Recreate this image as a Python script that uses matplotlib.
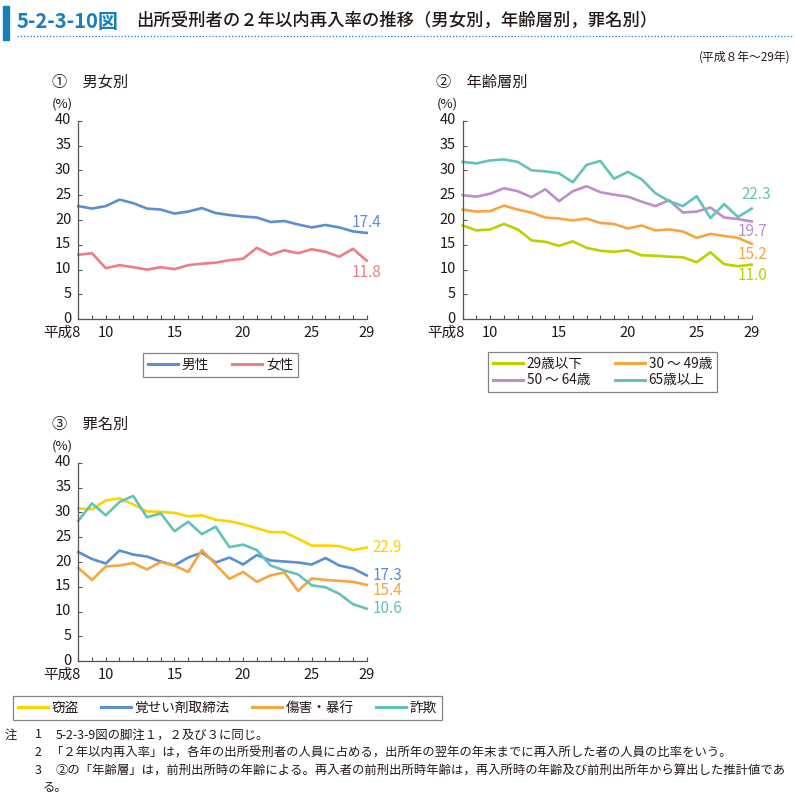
import matplotlib
matplotlib.use('Agg')
import matplotlib.pyplot as plt
import matplotlib.transforms as mt
from matplotlib.lines import Line2D
from matplotlib.patches import Rectangle

plt.rcParams['font.family'] = ['Noto Sans CJK JP', 'DejaVu Sans']

# ---------------- data ----------------
years = list(range(8, 30))
xtick_labels = ['平成8', '', '10', '', '', '', '', '15', '', '', '', '', '20',
                '', '', '', '', '25', '', '', '', '29']
yticks = [0, 5, 10, 15, 20, 25, 30, 35, 40]

# ① 男女別
male = [22.8, 22.3, 22.8, 24.1, 23.4, 22.3, 22.1, 21.3, 21.7, 22.4, 21.4,
        21.0, 20.7, 20.5, 19.6, 19.8, 19.1, 18.5, 19.0, 18.5, 17.7, 17.4]
female = [13.0, 13.3, 10.3, 10.9, 10.5, 10.0, 10.5, 10.1, 10.9, 11.2, 11.4,
          11.9, 12.2, 14.4, 13.0, 13.9, 13.3, 14.1, 13.6, 12.6, 14.2, 11.8]
sex_labels = ['男性', '女性']

# ② 年齢層別
age29 = [18.9, 17.9, 18.1, 19.2, 18.1, 15.9, 15.6, 14.8, 15.7, 14.4, 13.8,
         13.6, 13.9, 12.9, 12.8, 12.6, 12.5, 11.5, 13.5, 11.1, 10.7, 11.0]
age30 = [22.1, 21.7, 21.8, 22.9, 22.1, 21.5, 20.5, 20.3, 19.9, 20.3, 19.4,
         19.2, 18.3, 18.9, 17.9, 18.1, 17.7, 16.4, 17.2, 16.8, 16.4, 15.2]
age50 = [25.0, 24.7, 25.3, 26.4, 25.8, 24.6, 26.2, 23.8, 25.8, 26.8, 25.6,
         25.1, 24.7, 23.7, 22.8, 24.0, 21.5, 21.7, 22.5, 20.5, 20.2, 19.7]
age65 = [31.7, 31.4, 32.0, 32.2, 31.7, 30.0, 29.8, 29.4, 27.6, 31.1, 31.9,
         28.3, 29.7, 28.2, 25.4, 23.8, 22.8, 24.8, 20.4, 23.2, 20.6, 22.3]
age_labels = ['29歳以下', '30 ～ 49歳', '50 ～ 64歳', '65歳以上']

# ③ 罪名別
theft = [30.8, 30.6, 32.4, 32.8, 31.6, 30.2, 30.1, 29.9, 29.2, 29.4, 28.5,
         28.2, 27.6, 26.8, 26.0, 26.0, 24.7, 23.3, 23.3, 23.2, 22.4, 22.9]
stim = [22.0, 20.6, 19.7, 22.3, 21.5, 21.1, 20.1, 19.3, 20.9, 21.9, 19.9,
        20.9, 19.5, 21.4, 20.3, 20.1, 19.9, 19.5, 20.8, 19.3, 18.7, 17.3]
assault = [18.8, 16.4, 19.1, 19.3, 19.8, 18.5, 20.0, 19.3, 18.0, 22.4, 19.5,
           16.6, 18.0, 16.0, 17.3, 17.9, 14.2, 16.7, 16.4, 16.2, 16.0, 15.4]
fraud = [28.3, 31.8, 29.4, 32.1, 33.3, 29.0, 29.8, 26.2, 28.1, 25.6, 27.1,
         23.0, 23.5, 22.4, 19.3, 18.3, 17.5, 15.3, 14.9, 13.6, 11.5, 10.6]
crime_labels = ['窃盗', '覚せい剤取締法', '傷害・暴行', '詐欺']

# ---------------- styling ----------------
BLUE = '#5B8FD1'
PINK = '#EE7D86'
YGREEN = '#BDD000'
ORANGE = '#F7A53E'
PURPLE = '#BE8ECB'
TEAL = '#63C3BA'
YELLOW = '#FFD200'
HEAD = '#1A7FB8'
TXT = '#231815'
LW = 1.9

W, H = 796, 799
fig = plt.figure(figsize=(W / 100, H / 100), dpi=100)
fig.patch.set_facecolor('white')


def rect(x0, x1, yt, yb):
    return [x0 / W, 1 - yb / H, (x1 - x0) / W, (yb - yt) / H]


def style(ax):
    ax.set_xlim(8, 29)
    ax.set_ylim(0, 40)
    for s in ['top', 'right']:
        ax.spines[s].set_visible(False)
    for s in ['left', 'bottom']:
        ax.spines[s].set_color('#555555')
        ax.spines[s].set_linewidth(0.9)
    ax.set_xticks(years)
    ax.set_xticklabels(xtick_labels)
    ax.set_yticks(yticks)
    ax.tick_params(axis='both', direction='in', length=3, width=0.8,
                   color='#555555', labelsize=10.5, labelcolor=TXT)
    ax.tick_params(axis='x', pad=5)
    ax.tick_params(axis='y', pad=5)
    lab = ax.get_xticklabels()[0]
    lab.set_ha('right')
    lab.set_transform(lab.get_transform() + mt.ScaledTranslation(2 / 100, 0, fig.dpi_scale_trans))
    for t in ax.get_yticklabels():
        t.set_transform(t.get_transform() + mt.ScaledTranslation(0, 2 / 100, fig.dpi_scale_trans))


def end_label(ax, series, color, dx, dy, ha='center'):
    v = series[-1]
    ax.annotate(f'{v:.1f}', xy=(years[-1], v), xytext=(dx, dy),
                textcoords='offset points', ha=ha, va='center',
                color=color, fontsize=11)


# Panel 1
ax1 = fig.add_axes(rect(78.3, 366.7, 120.7, 319.3))
style(ax1)
ax1.plot(years, male, color=BLUE, lw=LW, clip_on=False, label=sex_labels[0])
ax1.plot(years, female, color=PINK, lw=LW, clip_on=False, label=sex_labels[1])
end_label(ax1, male, BLUE, 0, 7.2)
end_label(ax1, female, PINK, 0, -8.6)

# Panel 2
ax2 = fig.add_axes(rect(462.7, 751.7, 120.7, 319.3))
style(ax2)
ax2.plot(years, age29, color=YGREEN, lw=LW, clip_on=False)
ax2.plot(years, age30, color=ORANGE, lw=LW, clip_on=False)
ax2.plot(years, age50, color=PURPLE, lw=LW, clip_on=False)
ax2.plot(years, age65, color=TEAL, lw=LW, clip_on=False)
end_label(ax2, age65, TEAL, 3, 10.3)
end_label(ax2, age50, PURPLE, 0.5, -7.3)
end_label(ax2, age30, ORANGE, 0.5, -8.0)
end_label(ax2, age29, YGREEN, 0.5, -8.0)

# Panel 3
ax3 = fig.add_axes(rect(78.3, 366.7, 462.7, 661.3))
style(ax3)
ax3.plot(years, theft, color=YELLOW, lw=LW, clip_on=False)
ax3.plot(years, stim, color=BLUE, lw=LW, clip_on=False)
ax3.plot(years, assault, color=ORANGE, lw=LW, clip_on=False)
ax3.plot(years, fraud, color=TEAL, lw=LW, clip_on=False)
end_label(ax3, theft, YELLOW, 4.3, 0, ha='left')
end_label(ax3, stim, BLUE, 4.3, 0, ha='left')
end_label(ax3, assault, ORANGE, 4.3, -4.3, ha='left')
end_label(ax3, fraud, TEAL, 4.3, 0, ha='left')


def leg_handle(c):
    return Line2D([0], [0], color=c, lw=2.2)


legkw = dict(frameon=True, fancybox=False, edgecolor='#666666', fontsize=9.8,
             handlelength=2.2, handletextpad=0.3, borderpad=0.35,
             borderaxespad=0, labelcolor=TXT)

lg1 = ax1.legend([leg_handle(BLUE), leg_handle(PINK)], sex_labels,
                 loc='upper left', bbox_to_anchor=(143 / W, 1 - 353 / H),
                 bbox_transform=fig.transFigure, ncol=2, columnspacing=1.7,
                 **legkw)
lg1.get_frame().set_linewidth(0.9)

lg2 = ax2.legend([leg_handle(YGREEN), leg_handle(PURPLE), leg_handle(ORANGE), leg_handle(TEAL)],
                 [age_labels[0], age_labels[2], age_labels[1], age_labels[3]],
                 loc='upper left', bbox_to_anchor=(488 / W, 1 - 352 / H),
                 bbox_transform=fig.transFigure, ncol=2, columnspacing=1.8,
                 labelspacing=0.2, **legkw)
lg2.get_frame().set_linewidth(0.9)

lg3 = ax3.legend([leg_handle(YELLOW), leg_handle(BLUE), leg_handle(ORANGE), leg_handle(TEAL)],
                 crime_labels, loc='upper left', bbox_to_anchor=(13 / W, 1 - 696 / H),
                 bbox_transform=fig.transFigure, ncol=4, columnspacing=1.6,
                 **legkw)
lg3.get_frame().set_linewidth(0.9)

# ---------------- header ----------------
fig.patches.append(Rectangle((3 / W, 1 - 40 / H), 6 / W, 34 / H,
                             transform=fig.transFigure, color=HEAD, zorder=5))
fig.lines.append(Line2D([17 / W, 792 / W], [1 - 36 / H, 1 - 36 / H],
                        transform=fig.transFigure, color=HEAD, lw=0.9,
                        linestyle=(0, (1, 1.6))))
fig.text(17 / W, 1 - 21 / H, '5-2-3-10図', color=HEAD, fontsize=14.5,
         weight='bold', va='center', ha='left')
fig.text(136 / W, 1 - 21 / H, '出所受刑者の２年以内再入率の推移（男女別，年齢層別，罪名別）',
         color=TXT, fontsize=12.5, weight='medium', va='center', ha='left')
fig.text(790 / W, 1 - 57 / H, '(平成８年～29年)', color=TXT, fontsize=8.5,
         va='center', ha='right')

# panel titles
fig.text(52 / W, 1 - 82 / H, '①\u3000男女別', color=TXT, fontsize=11, va='center')
fig.text(52 / W, 1 - 104 / H, '(%)', color=TXT, fontsize=9.5, va='center')
fig.text(436 / W, 1 - 82 / H, '②\u3000年齢層別', color=TXT, fontsize=11, va='center')
fig.text(437 / W, 1 - 104 / H, '(%)', color=TXT, fontsize=9.5, va='center')
fig.text(52 / W, 1 - 424 / H, '③\u3000罪名別', color=TXT, fontsize=11, va='center')
fig.text(52 / W, 1 - 446 / H, '(%)', color=TXT, fontsize=9.5, va='center')

# notes
nfs = 8.9
fig.text(5 / W, 1 - 735 / H, '注', color=TXT, fontsize=nfs, va='center')
notes = [
    ('1', '5-2-3-9図の脚注１，２及び３に同じ。', 735, 56),
    ('2', '「２年以内再入率」は，各年の出所受刑者の人員に占める，出所年の翌年の年末までに再入所した者の人員の比率をいう。', 753, 51),
    ('3', '②の「年齢層」は，前刑出所時の年齢による。再入者の前刑出所時年齢は，再入所時の年齢及び前刑出所年から算出した推計値であ', 771, 56),
]
for num, t, y, x in notes:
    fig.text(35 / W, 1 - y / H, num, color=TXT, fontsize=nfs, va='center')
    fig.text(x / W, 1 - y / H, t, color=TXT, fontsize=nfs, va='center')
fig.text(43 / W, 1 - 788 / H, 'る。', color=TXT, fontsize=nfs, va='center')

fig.savefig('out.png', dpi=100)
